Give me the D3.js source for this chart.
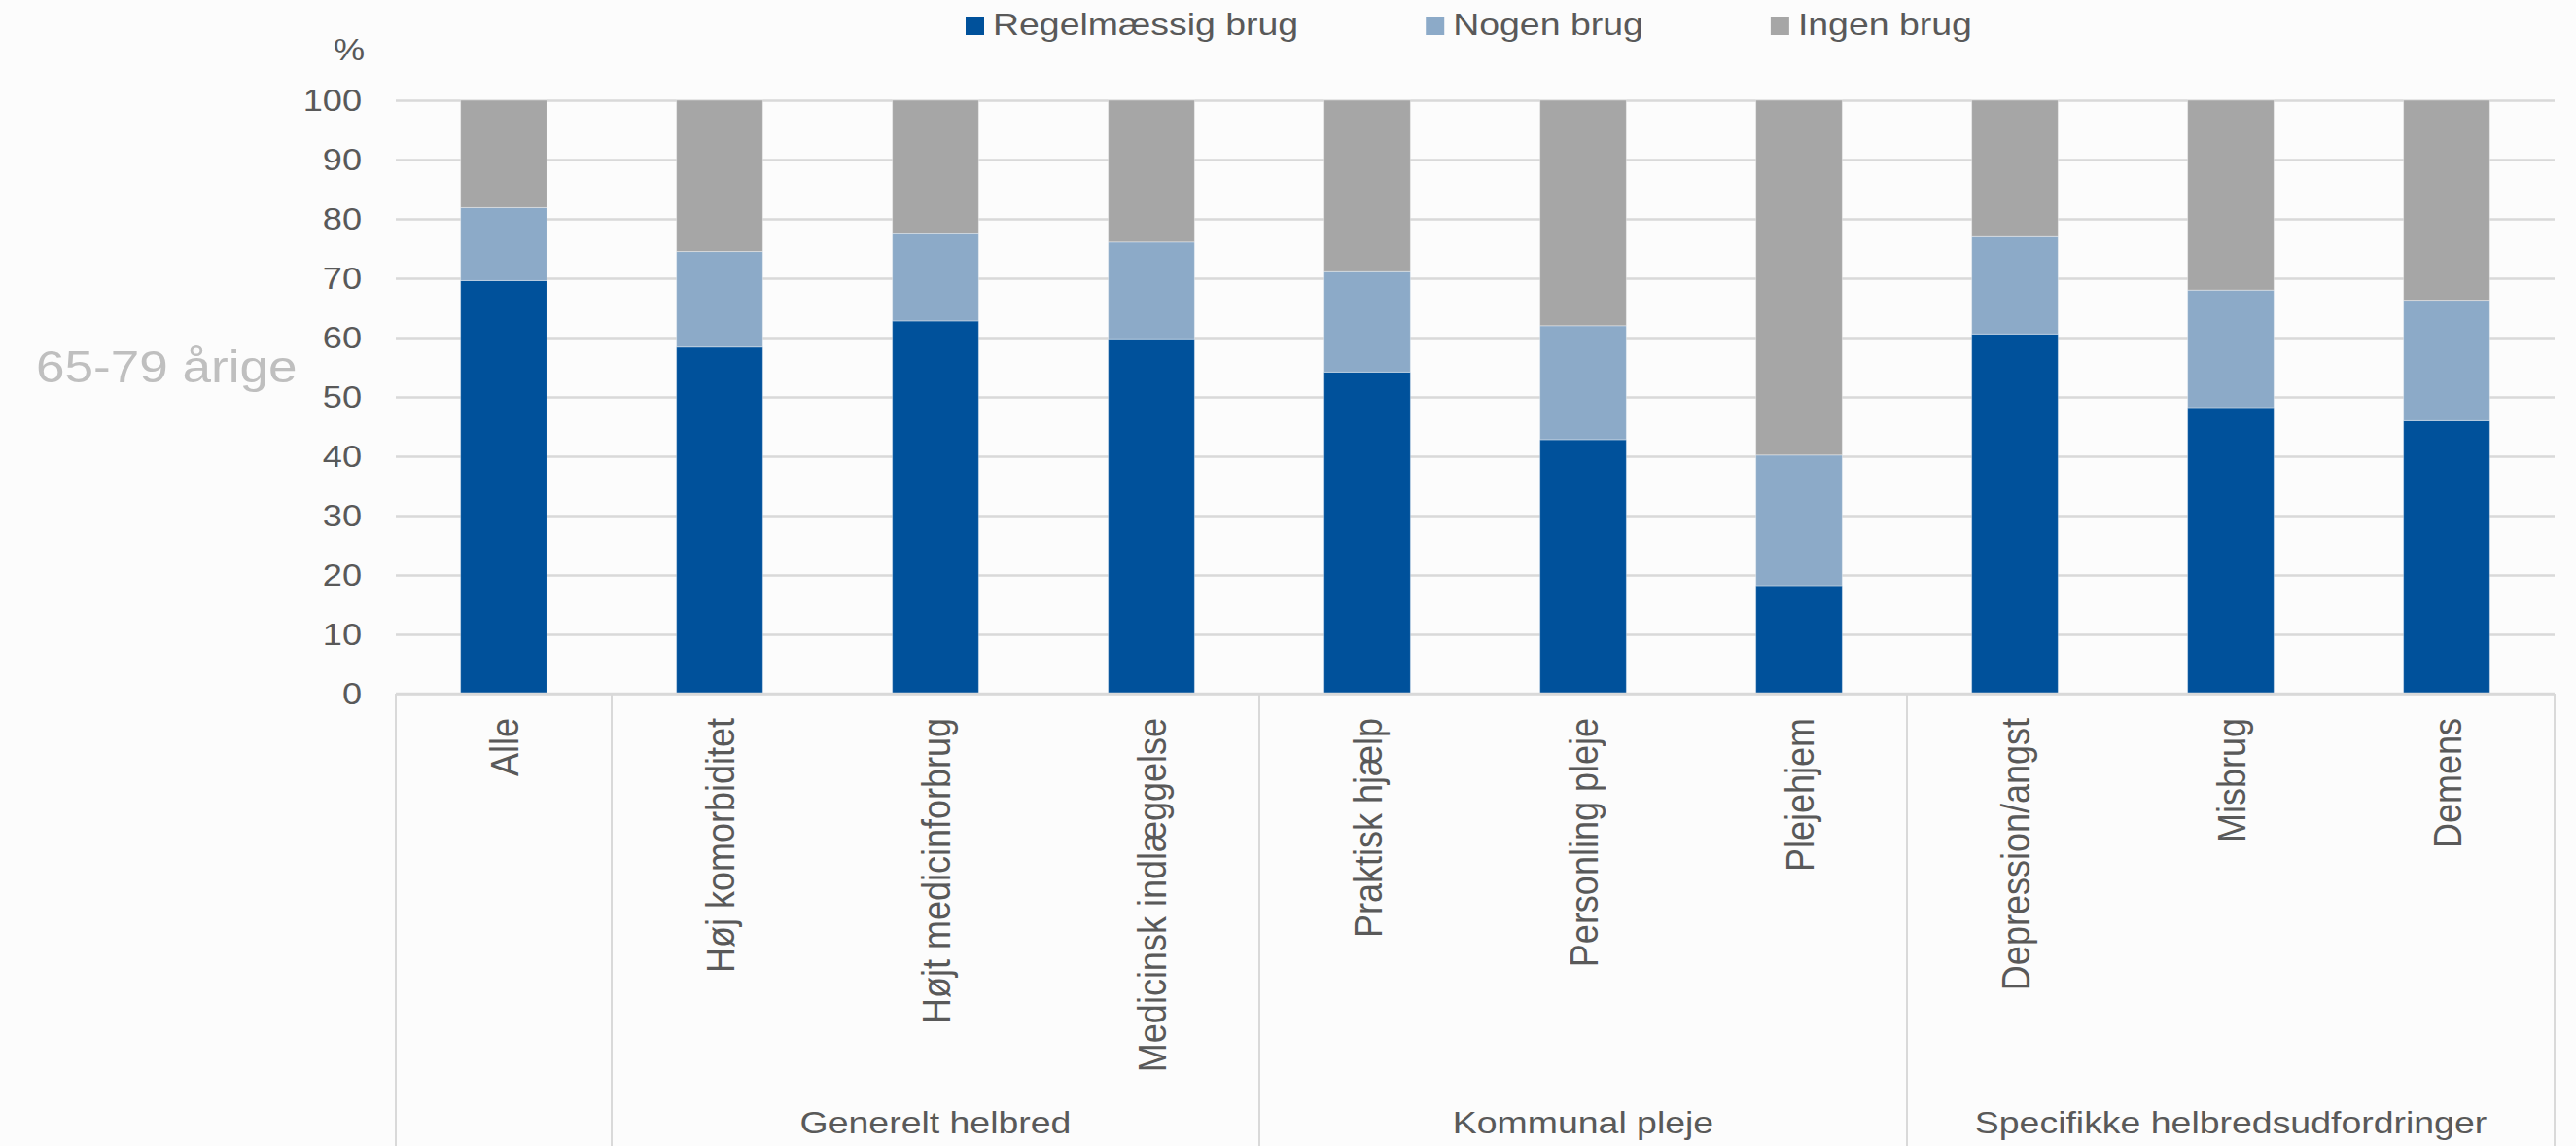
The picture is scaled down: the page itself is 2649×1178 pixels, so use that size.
<!DOCTYPE html>
<html>
<head>
<meta charset="utf-8">
<script src="https://cdnjs.cloudflare.com/ajax/libs/d3/7.8.5/d3.min.js"></script>
<style>
  html, body { margin: 0; padding: 0; background: #fcfcfc; }
  svg { display: block; }
  text { font-family: "Liberation Sans", Arial, sans-serif; fill: #595959; }
</style>
</head>
<body>
<svg id="chart" width="2649" height="1178"></svg>
<script>
// ---- data ----
const categories = ["Alle", "Høj komorbiditet", "Højt medicinforbrug", "Medicinsk indlæggelse",
  "Praktisk hjælp", "Personling pleje", "Plejehjem", "Depression/angst", "Misbrug", "Demens"];
const groupNames = ["", "Generelt helbred", "Kommunal pleje", "Specifikke helbredsudfordringer"];
const groupOfCategory = [0, 1, 1, 1, 2, 2, 2, 3, 3, 3];
const seriesNames = ["Regelmæssig brug", "Nogen brug", "Ingen brug"];
const regelmaessigBrug = [69.6, 58.4, 62.8, 59.8, 54.2, 42.8, 18.2, 60.6, 48.2, 46.0];
const nogenBrug = [12.3, 16.1, 14.7, 16.3, 16.9, 19.2, 22.0, 16.4, 19.8, 20.3];
const ingenBrug = [18.1, 25.5, 22.5, 23.9, 28.9, 38.0, 59.8, 23.0, 32.0, 33.7];
const yTicks = [0, 10, 20, 30, 40, 50, 60, 70, 80, 90, 100];
const yUnit = "%";
const sideLabel = "65-79 årige";

// ---- style ----
const colors = ["#00519b", "#8caac8", "#a6a6a6"];
const SX = 1.17; // horizontal stretch of the reference text
const margin = { left: 407, right: 22, top: 103, bottomAxis: 713 };
const W = 2649, H = 1178;

const svg = d3.select("#chart");

function stretch(sel, sx) {
  sel.each(function () {
    const t = d3.select(this);
    const x = +t.attr("x") || 0, y = +t.attr("y") || 0;
    t.attr("x", 0).attr("y", 0).attr("transform", `translate(${x},${y}) scale(${sx},1)`);
  });
}

const x = d3.scaleBand().domain(categories)
  .range([margin.left, W - margin.right])
  .paddingInner(0.6).paddingOuter(0.3);
const y = d3.scaleLinear().domain([0, 100]).range([margin.bottomAxis, margin.top]);

// gridlines + tick labels
const yAxis = d3.axisLeft(y).tickValues(yTicks).tickSize(-(W - margin.right - margin.left)).tickPadding(35);
const gy = svg.append("g").attr("transform", `translate(${margin.left},0)`).call(yAxis);
gy.select(".domain").remove();
gy.selectAll(".tick line").attr("stroke", "#d9d9d9").attr("stroke-width", 2.5);
gy.selectAll(".tick text").attr("font-size", 32).attr("fill", "#595959")
  .style("font-family", '"Liberation Sans", Arial, sans-serif');
stretch(gy.selectAll(".tick text"), 1.13);

// unit label
const unit = svg.append("text").attr("x", 359).attr("y", 62).attr("text-anchor", "middle")
  .attr("font-size", 32).text(yUnit);
stretch(unit, 1.13);

// side label
const side = svg.append("text").attr("x", 37).attr("y", 393)
  .attr("font-size", 47).style("fill", "#bfbfbf").text(sideLabel);
stretch(side, 1.13);

// stacked bars
const rows = categories.map((c, i) => ({
  cat: c, s0: regelmaessigBrug[i], s1: nogenBrug[i], s2: ingenBrug[i]
}));
const stack = d3.stack().keys(["s0", "s1", "s2"]);
const layers = stack(rows);
svg.append("g").selectAll("g").data(layers).join("g")
  .attr("fill", (d, i) => colors[i])
  .selectAll("rect").data(d => d).join("rect")
  .attr("x", d => x(d.data.cat))
  .attr("width", x.bandwidth())
  .attr("y", d => y(d[1]))
  .attr("height", d => y(d[0]) - y(d[1]))
  .attr("stroke", "rgba(255,255,255,0.35)")
  .attr("stroke-width", 1);

// bottom axis line
svg.append("line").attr("x1", margin.left).attr("x2", W - margin.right)
  .attr("y1", y(0)).attr("y2", y(0)).attr("stroke", "#d9d9d9").attr("stroke-width", 2.5);

// group separators
const step = x.step();
const boundaries = [];
categories.forEach((c, i) => {
  if (i === 0 || groupOfCategory[i] !== groupOfCategory[i - 1]) boundaries.push(x(c) - step * 0.3);
});
boundaries.push(x(categories[categories.length - 1]) + x.bandwidth() + step * 0.3);
svg.append("g").selectAll("line").data(boundaries).join("line")
  .attr("x1", d => d).attr("x2", d => d)
  .attr("y1", y(0)).attr("y2", H)
  .attr("stroke", "#d9d9d9").attr("stroke-width", 2);

// category labels (rotated)
svg.append("g").selectAll("text").data(categories).join("text")
  .attr("transform", d => `translate(${x(d) + x.bandwidth() / 2},${y(0) + 25}) scale(1.13,1) rotate(-90)`)
  .attr("text-anchor", "end").attr("dy", "0.36em")
  .attr("font-size", 36).text(d => d);

// group labels
const groupLabels = groupNames.map((g, gi) => {
  const idx = groupOfCategory.map((v, i) => v === gi ? i : -1).filter(i => i >= 0);
  const x0 = x(categories[idx[0]]) - step * 0.3;
  const x1 = x(categories[idx[idx.length - 1]]) + x.bandwidth() + step * 0.3;
  return { name: g, cx: (x0 + x1) / 2 };
}).filter(d => d.name);
const gl = svg.append("g").selectAll("text").data(groupLabels).join("text")
  .attr("x", d => d.cx).attr("y", 1165).attr("text-anchor", "middle")
  .attr("font-size", 32).text(d => d.name);
stretch(gl, SX);

// legend
const legend = svg.append("g");
let lx = 993;
seriesNames.forEach((name, i) => {
  legend.append("rect").attr("x", lx).attr("y", 17).attr("width", 19).attr("height", 19).attr("fill", colors[i]);
  const t = legend.append("text").attr("x", lx + 28).attr("y", 36).attr("font-size", 32).text(name);
  const len = t.node().getComputedTextLength() * SX;
  stretch(t, SX);
  lx = lx + 28 + len + 131;
});
</script>
</body>
</html>
